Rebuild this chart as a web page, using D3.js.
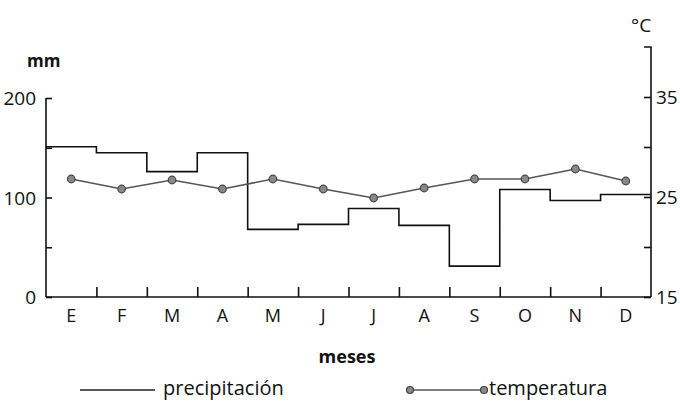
<!DOCTYPE html>
<html>
<head>
<meta charset="utf-8">
<script src="https://cdn.jsdelivr.net/npm/d3@7"></script>
<style>
  body { margin: 0; background: #fff; }
  svg { display: block; font-family: "Open Sans", "Noto Sans", sans-serif; }
</style>
</head>
<body>
<svg id="chart" width="680" height="401"></svg>
<script>
const months = ['E', 'F', 'M', 'A', 'M', 'J', 'J', 'A', 'S', 'O', 'N', 'D'];
const precipitacion = [151, 145, 126, 145, 68, 73, 89, 72, 31, 108, 97, 103];
const temperatura = [26.8, 25.8, 26.7, 25.8, 26.8, 25.8, 24.9, 25.9, 26.8, 26.8, 27.8, 26.6];
const mmTicks = [0, 100, 200];
const mmMinor = [50, 150];
const cTicks = [15, 25, 35];
const cMinor = [20, 30];

const svg = d3.select('#chart');
const left = 46, right = 651, bottom = 297;

const x = d3.scaleLinear().domain([0, 12]).range([left, right]);
const yP = d3.scaleLinear().domain([0, 200]).range([bottom, 98]);
const yT = d3.scaleLinear().domain([15, 40]).range([bottom, 47]);

// left axis
const gl = svg.append('g').attr('transform', `translate(${left},0)`);
gl.call(d3.axisRight(yP).tickValues(mmTicks.concat(mmMinor)).tickSize(6).tickFormat(''));
gl.select('.domain').attr('d', `M0,${yP(200)}V${bottom}`);
gl.selectAll('line, path').attr('stroke', '#111').attr('stroke-width', 1.6);
svg.selectAll('.mmlab')
  .data(mmTicks)
  .enter().append('text')
  .attr('x', left - 10)
  .attr('y', d => yP(d) + 7)
  .attr('text-anchor', 'end')
  .style('font-size', '19px')
  .attr('fill', '#111')
  .text(d => d);

// right axis
const gr = svg.append('g').attr('transform', `translate(${right},0)`);
gr.call(d3.axisLeft(yT).tickValues(cTicks.concat(cMinor)).tickSize(7).tickFormat(''));
gr.select('.domain').attr('d', `M-7,${yT(40)}H0V${bottom}`);
gr.selectAll('line, path').attr('stroke', '#111').attr('stroke-width', 1.6);
svg.selectAll('.clab')
  .data(cTicks)
  .enter().append('text')
  .attr('x', right + 5)
  .attr('y', d => yT(d) + 7)
  .style('font-size', '19px')
  .attr('fill', '#111')
  .text(d => d);

// bottom axis
const gb = svg.append('g').attr('transform', `translate(0,${bottom})`);
gb.call(d3.axisTop(x).tickValues(d3.range(1, 12)).tickSize(10).tickFormat(''));
gb.select('.domain').attr('d', `M${left},0H${right}`);
gb.selectAll('line, path').attr('stroke', '#111').attr('stroke-width', 1.6);
svg.selectAll('.mlab')
  .data(months)
  .enter().append('text')
  .attr('x', (d, i) => x(i + 0.5))
  .attr('y', 322)
  .attr('text-anchor', 'middle')
  .style('font-size', '18px')
  .attr('fill', '#111')
  .text(d => d);

// precipitation steps
const stepData = precipitacion.map((v, i) => [i, v]).concat([[12, precipitacion[11]]]);
svg.append('path')
  .datum(stepData)
  .attr('fill', 'none')
  .attr('stroke', '#111')
  .attr('stroke-width', 1.6)
  .attr('d', d3.line().x(d => x(d[0])).y(d => yP(d[1])).curve(d3.curveStepAfter));

// temperature line
svg.append('path')
  .datum(temperatura)
  .attr('fill', 'none')
  .attr('stroke', '#555')
  .attr('stroke-width', 1.6)
  .attr('d', d3.line().x((d, i) => x(i + 0.5)).y(d => yT(d)));

svg.selectAll('.pt')
  .data(temperatura)
  .enter().append('circle')
  .attr('cx', (d, i) => x(i + 0.5))
  .attr('cy', d => yT(d))
  .attr('r', 3.8)
  .attr('fill', '#888')
  .attr('stroke', '#444')
  .attr('stroke-width', 1.2);

// titles
svg.append('text').attr('x', 27).attr('y', 67)
  .style('font-size', '17px').style('font-weight', 'bold').attr('fill', '#111').text('mm');
svg.append('text').attr('x', 631).attr('y', 32)
  .style('font-size', '19px').attr('fill', '#111').text('°C');
svg.append('text').attr('x', 347).attr('y', 363).attr('text-anchor', 'middle')
  .style('font-size', '18px').style('font-weight', 'bold').attr('fill', '#111').text('meses');

// legend
svg.append('line').attr('x1', 80).attr('x2', 155).attr('y1', 390).attr('y2', 390)
  .attr('stroke', '#222').attr('stroke-width', 1.4);
svg.append('text').attr('x', 163).attr('y', 395)
  .style('font-size', '20px').attr('fill', '#111').text('precipitación');

svg.append('line').attr('x1', 410).attr('x2', 484).attr('y1', 390).attr('y2', 390)
  .attr('stroke', '#555').attr('stroke-width', 1.6);
svg.selectAll('.lg')
  .data([410, 484])
  .enter().append('circle')
  .attr('cx', d => d).attr('cy', 390).attr('r', 3.5)
  .attr('fill', '#888').attr('stroke', '#444').attr('stroke-width', 1.2);
svg.append('text').attr('x', 489).attr('y', 395)
  .style('font-size', '20px').attr('fill', '#111').text('temperatura');
</script>
</body>
</html>
